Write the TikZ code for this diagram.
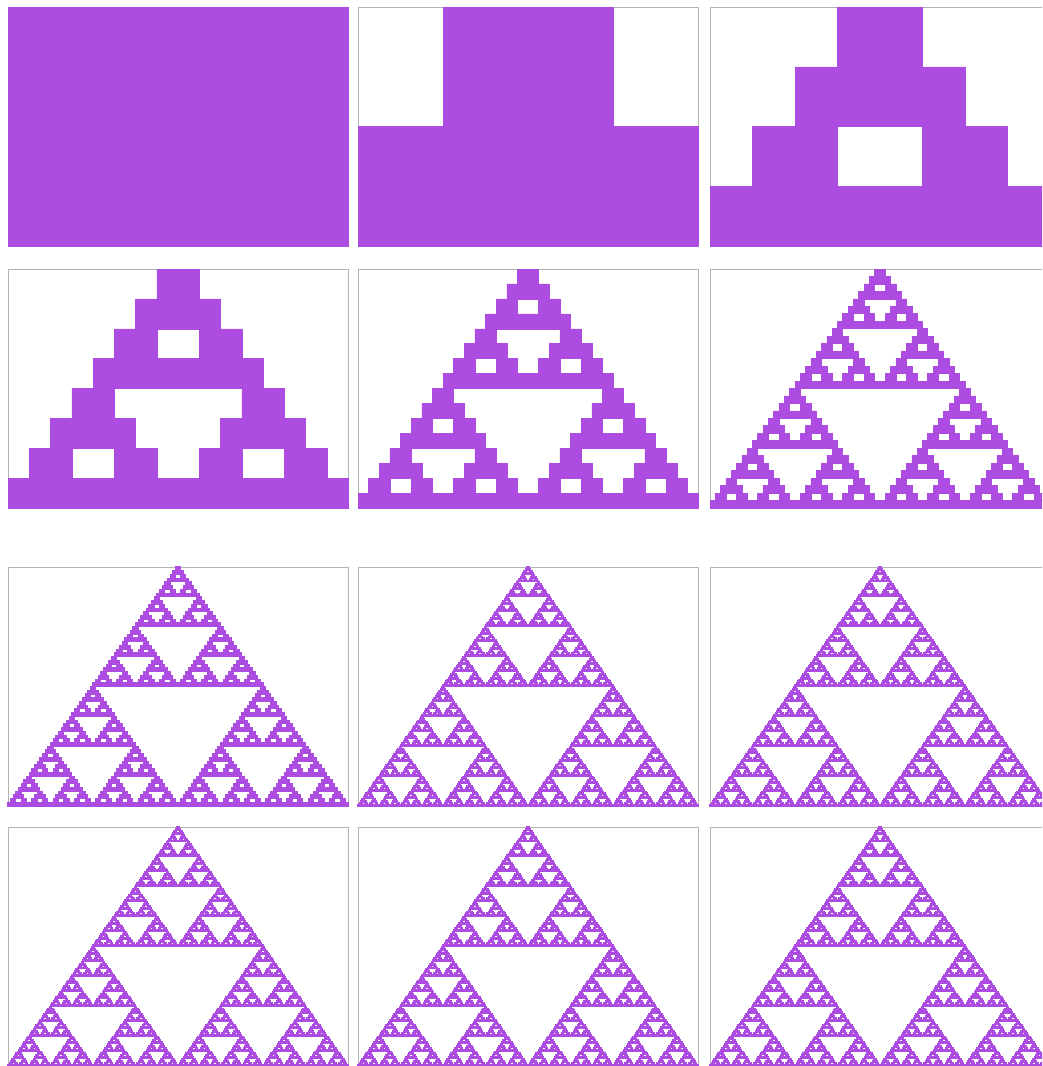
\documentclass[tikz,border=0pt]{standalone}
\usepackage{tikz}
\definecolor{sierfill}{HTML}{AC4CE0}
\definecolor{framegray}{HTML}{B4B4B4}
% level, left x, bottom y, width, height (pixel units, y down)
\newcommand\sierstep[5]{%
  \ifnum#1=0 \pgfpathrectangle{\pgfpointxy{#2}{#3}}{\pgfpointxy{#4}{-#5}}%
  \else
    \pgfmathsetmacro\hw{#4/2}\pgfmathsetmacro\hh{#5/2}%
    \pgfmathsetmacro\xr{#2+\hw}\pgfmathsetmacro\xm{#2+\hw/2}%
    \pgfmathsetmacro\yt{#3-\hh}\pgfmathtruncatemacro\sublv{#1-1}%
    \edef\next{\noexpand\sierstep{\sublv}{#2}{#3}{\hw}{\hh}%
      \noexpand\sierstep{\sublv}{\xr}{#3}{\hw}{\hh}%
      \noexpand\sierstep{\sublv}{\xm}{\yt}{\hw}{\hh}}%
    \next
  \fi
  \ifnum#1=\chunklv\relax \pgfusepath{fill,stroke}\fi}
\begin{document}
\begin{tikzpicture}[x=0.025cm, y=-0.025cm,
  panel/.style={draw=framegray, line width=0.7pt}]
  \useasboundingbox (0,0) rectangle (1042,1066);
  \clip (0,0) rectangle (1042,1066);
  % twelve stages, coarse to fine
  \foreach \lv/\px/\py/\wd in {0/8/246/0.3, 1/358/246/0.3, 2/710/246/0.3,
                              3/8/508/0.3, 4/358/508/0.35, 5/710/508/0.5,
                              6/8/806/0.75, 7/358/806/0.75, 7/710/806/0.75,
                              7/8/1066/0.75, 7/358/1066/0.75, 7/710/1066/0.75}{
    \draw[panel] (\px,\py) rectangle ++(340,-239);
    \pgfsetfillcolor{sierfill}\pgfsetstrokecolor{sierfill}
    \pgfsetlinewidth{\wd pt}
    \pgfmathtruncatemacro\chunklv{min(\lv,4)}
    \sierstep{\lv}{\px}{\py}{340}{239}
  }
\end{tikzpicture}
\end{document}
